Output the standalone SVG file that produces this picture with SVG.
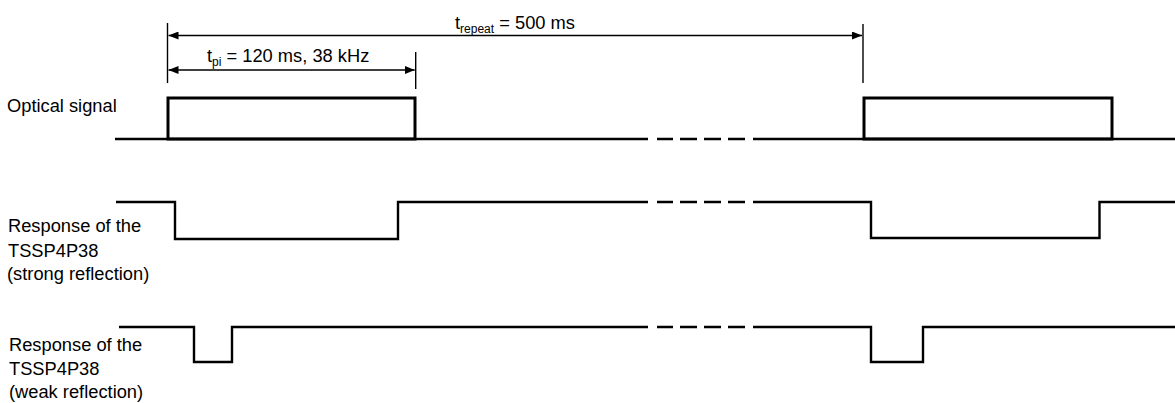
<svg xmlns="http://www.w3.org/2000/svg" width="1175" height="403" viewBox="0 0 1175 403">
  <style>
    .lbl { font-family: "Liberation Sans", Arial, sans-serif; font-size: 18.3px; fill: #000; }
    .sub { font-size: 12px; }
    .sig { fill: none; stroke: #000; stroke-width: 2.4; stroke-linejoin: miter; stroke-linecap: butt; }
    .pulse { fill: none; stroke: #000; stroke-width: 3; }
    .dim { fill: none; stroke: #000; stroke-width: 1.5; }
    .tick { fill: none; stroke: #000; stroke-width: 1.4; }
  </style>
  <defs>
    <marker id="ah" viewBox="0 0 10 8" refX="10" refY="4" markerWidth="10" markerHeight="8" markerUnits="userSpaceOnUse" orient="auto-start-reverse">
      <path d="M0,0 L10,4 L0,8 Z" fill="#000"/>
    </marker>
  </defs>
  <rect width="1175" height="403" fill="#fff"/>

  <g id="labels">
    <text class="lbl" x="7" y="112">Optical signal</text>
    <text class="lbl" x="8" y="232">Response of the</text>
    <text class="lbl" x="8" y="256.5">TSSP4P38</text>
    <text class="lbl" x="7" y="280">(strong reflection)</text>
    <text class="lbl" x="9" y="351">Response of the</text>
    <text class="lbl" x="9" y="375">TSSP4P38</text>
    <text class="lbl" x="9" y="398">(weak reflection)</text>
  </g>

  <g id="optical-signal">
    <path class="sig" d="M115,139 H648 M657,139 H673 M680,139 H697 M704,139 H721 M728,139 H745 M753,139 H1175"/>
    <path class="pulse" d="M168,139 V98 H415 V139 Z"/>
    <path class="pulse" d="M864,139 V98 H1112 V139 Z"/>
  </g>

  <g id="strong-response">
    <path class="sig" d="M116,202 H175 V239 H398 V202 H648"/>
    <path class="sig" d="M657,202 H673 M680,202 H697 M704,202 H721 M728,202 H745"/>
    <path class="sig" d="M753,202 H871 V238 H1099.5 V202 H1175"/>
  </g>

  <g id="weak-response">
    <path class="sig" d="M119,327 H194 V362 H232 V327 H648"/>
    <path class="sig" d="M657,327 H673 M680,327 H697 M704,327 H721 M728,327 H745"/>
    <path class="sig" d="M753,327 H871 V362 H923 V327 H1175"/>
  </g>

  <g id="connectors">
    <line class="tick" x1="167.5" y1="23" x2="167.5" y2="83"/>
    <line class="tick" x1="415.7" y1="52" x2="415.7" y2="89"/>
    <line class="tick" x1="863" y1="24" x2="863" y2="83"/>
    <line class="dim" x1="168.5" y1="35.5" x2="862" y2="35.5" marker-start="url(#ah)" marker-end="url(#ah)"/>
    <line class="dim" x1="168.5" y1="70" x2="414.7" y2="70" marker-start="url(#ah)" marker-end="url(#ah)"/>
  </g>

  <g id="dimension-labels">
    <text class="lbl" x="455" y="29">t<tspan class="sub" dy="4">repeat</tspan><tspan dy="-4"> = 500 ms</tspan></text>
    <text class="lbl" x="207" y="62">t<tspan class="sub" dy="4">pi</tspan><tspan dy="-4"> = 120 ms, 38 kHz</tspan></text>
  </g>
</svg>
